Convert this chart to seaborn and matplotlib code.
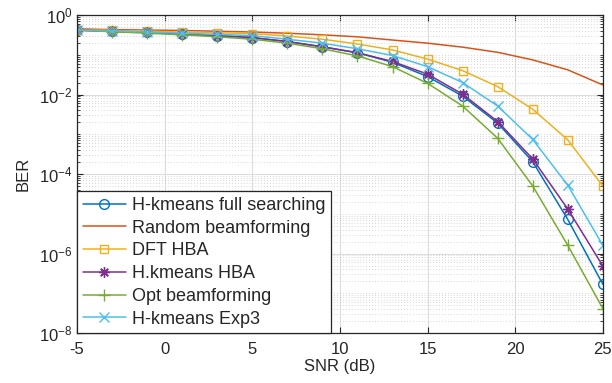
import numpy as np
import pandas as pd
import matplotlib
matplotlib.use("Agg")
import matplotlib.pyplot as plt
import matplotlib.ticker as mticker
import seaborn as sns

# ---------------- data ----------------
snr = [-5, -3, -1, 1, 3, 5, 7, 9, 11, 13, 15, 17, 19, 21, 23, 25]

ber_hkmeans_full = [0.417, 0.389, 0.363, 0.331, 0.302, 0.269, 0.214, 0.158, 0.112,
                    0.0646, 0.0282, 0.00912, 0.00191, 2.04e-4, 7.24e-6, 1.70e-7]
ber_random = [0.447, 0.427, 0.417, 0.407, 0.389, 0.372, 0.347, 0.316, 0.282,
              0.234, 0.195, 0.155, 0.115, 0.0741, 0.0417, 0.0174]
ber_dft_hba = [0.427, 0.407, 0.389, 0.372, 0.355, 0.339, 0.295, 0.245, 0.186,
               0.132, 0.0776, 0.0398, 0.0158, 0.00427, 7.24e-4, 5.01e-5]
ber_hkmeans_hba = [0.417, 0.389, 0.363, 0.331, 0.302, 0.269, 0.214, 0.158, 0.112,
                   0.0676, 0.0324, 0.0102, 0.00209, 2.40e-4, 1.32e-5, 4.90e-7]
ber_opt = [0.407, 0.380, 0.347, 0.316, 0.282, 0.245, 0.195, 0.141, 0.0933,
           0.0501, 0.0191, 0.00513, 7.94e-4, 5.01e-5, 1.62e-6, 4.17e-8]
ber_exp3 = [0.417, 0.398, 0.372, 0.347, 0.324, 0.302, 0.245, 0.195, 0.141,
            0.0955, 0.0501, 0.0200, 0.00513, 7.41e-4, 5.25e-5, 1.62e-6]

labels = ["H-kmeans full searching", "Random beamforming", "DFT HBA",
          "H.kmeans HBA", "Opt beamforming", "H-kmeans Exp3"]
series = [ber_hkmeans_full, ber_random, ber_dft_hba, ber_hkmeans_hba, ber_opt, ber_exp3]

xticks = [-5, 0, 5, 10, 15, 20, 25]
yticks = [1e-8, 1e-6, 1e-4, 1e-2, 1e0]

# ---------------- style ----------------
colors = ["#0072BD", "#D95319", "#EDB120", "#7E2F8E", "#77AC30", "#4DBEEE"]
markers = ["o", None, "s", (8, 2, 0), "+", "x"]
msizes = [7, 0, 6, 7.5, 8, 6.5]

sns.set_theme(style="white")
plt.rcParams["font.family"] = ["Liberation Sans", "DejaVu Sans"]
plt.rcParams["mathtext.fontset"] = "custom"
plt.rcParams["mathtext.rm"] = "Liberation Sans"

fig = plt.figure(figsize=(6.12, 3.83), dpi=100)
ax = fig.add_axes([0.126, 0.130, 0.859, 0.831])

for vals, lab, c, m, ms in zip(series, labels, colors, markers, msizes):
    df = pd.DataFrame({"SNR": snr, "BER": vals})
    kw = dict(color=c, lw=1.1, label=lab)
    if m is not None:
        kw.update(marker=m, markersize=ms, markerfacecolor="none",
                  markeredgecolor=c, markeredgewidth=1.0)
    sns.lineplot(data=df, x="SNR", y="BER", ax=ax, **kw)

ax.set_yscale("log")
ax.set_xlim(-5, 25)
ax.set_ylim(1e-8, 1e0)
ax.set_xticks(xticks)
ax.set_xticklabels([str(t) for t in xticks])
ax.yaxis.set_major_locator(mticker.FixedLocator(yticks))
ax.yaxis.set_major_formatter(mticker.FuncFormatter(
    lambda v, p: r"$\mathregular{10^{%d}}$" % int(round(np.log10(v)))))
ax.yaxis.set_minor_locator(mticker.LogLocator(base=10, subs=np.arange(1, 10), numticks=100))
ax.yaxis.set_minor_formatter(mticker.NullFormatter())

ax.grid(True, which="major", color="#dcdcdc", lw=0.8, ls="-")
ax.grid(True, which="minor", axis="y", color="#c8c8c8", lw=0.6, ls=(0, (1, 2.5)))
ax.set_axisbelow(True)

for s in ax.spines.values():
    s.set_color("#262626")
    s.set_linewidth(0.9)
    s.set_visible(True)

ax.tick_params(which="both", direction="in", top=True, right=True, left=True, bottom=True,
               colors="#262626", labelsize=12, labelcolor="#262626")
ax.tick_params(which="major", length=4, width=0.8)
ax.tick_params(which="minor", length=2, width=0.6)
ax.tick_params(axis="x", pad=6)

ax.set_xlabel("SNR (dB)", fontsize=12, color="#262626", labelpad=2)
ax.set_ylabel("BER", fontsize=12, color="#262626", labelpad=6)

leg = ax.legend(loc="lower left", fontsize=13, frameon=True, fancybox=False,
                borderaxespad=0, handlelength=2.4, handletextpad=0.35,
                labelspacing=0.32, borderpad=0.3)
leg.get_frame().set_edgecolor("#262626")
leg.get_frame().set_linewidth(0.9)
leg.get_frame().set_facecolor("white")
leg.get_frame().set_alpha(1)

fig.savefig("out.png", dpi=100)
